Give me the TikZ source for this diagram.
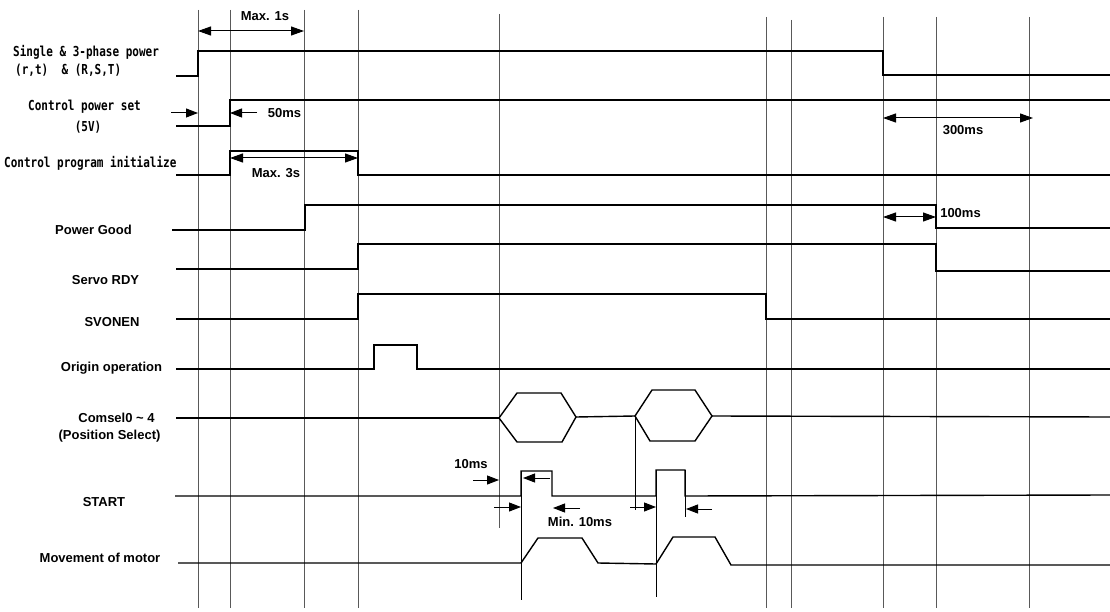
\documentclass[tikz,border=0pt]{standalone}
\usepackage{fontspec}
\setmainfont{Liberation Sans}
\newfontfamily\monofam{DejaVu Sans Mono}
\usetikzlibrary{arrows.meta}
\newcommand{\tallmono}[1]{\scalebox{1}[1.25]{#1}}
\begin{document}
\begin{tikzpicture}[x=1pt,y=-1pt,
  sig/.style={line width=1.4pt, line join=miter},
  guide/.style={line width=0.9pt, draw=black!65},
  thin/.style={line width=0.9pt, draw=black},
  dim/.style={line width=1pt, {Triangle[length=13pt,width=9pt]}-{Triangle[length=13pt,width=9pt]}},
  arr/.style={line width=1pt, -{Triangle[length=12pt,width=9pt]}},
  lab/.style={font=\fontsize{13}{13}\selectfont\bfseries, inner sep=0pt},
  mlab/.style={font=\fontsize{11}{11}\selectfont\monofam\bfseries, inner sep=0pt}]
\useasboundingbox (0,0) rectangle (1110,612);
% guide lines
\foreach \gx/\gt in {198/10,230/10,304/10,358/10,766/17,791/20,883/17,936/17,1029/17}
  \draw[guide] (\gx,\gt) -- (\gx,608);
\draw[guide] (499,14) -- (499,528);
\draw[thin] (521,471) -- (521,600);
\draw[thin] (656,470) -- (656,597);
\draw[thin] (635,416) -- (635,510);
\draw[thin] (685,470) -- (685,517);
% signal labels
\node[mlab, anchor=west] (l1a) at (13,52) {\tallmono{Single \& 3-phase power}};
\node[mlab, anchor=west] (l1b) at (15,70) {\tallmono{(r,t)\ \ \& (R,S,T)}};
\node[mlab] (l2a) at (84.5,107) {\tallmono{Control power set}};
\node[mlab] (l2b) at (88,127) {\tallmono{(5V)}};
\node[mlab, anchor=west] (l3) at (4,163) {\tallmono{Control program initialize}};
\node[lab] (l4) at (93.5,230) {Power Good};
\node[lab] (l5) at (105.5,280) {Servo RDY};
\node[lab] (l6) at (112,322) {SVONEN};
\node[lab] (l7) at (111.5,368) {Origin operation};
\node[lab] (l8a) at (116.5,418) {Comsel0 \textasciitilde{} 4};
\node[lab] (l8b) at (109.5,436) {(Position Select)};
\node[lab] (l9) at (104,502) {START};
\node[lab] (l10) at (100,558) {Movement of motor};
% signals
\draw[sig] (176,76) -- (198,76) -- (198,51) -- (883,51) -- (883,75) -- (1110,75);
\draw[sig] (176,126) -- (230,126) -- (230,100) -- (1110,100);
\draw[sig] (176,175) -- (230,175) -- (230,151) -- (358,151) -- (358,175) -- (1110,175);
\draw[sig] (172,230) -- (305,230) -- (305,205) -- (936,205) -- (936,228) -- (1110,228);
\draw[sig] (176,269) -- (358,269) -- (358,244) -- (936,244) -- (936,271) -- (1110,271);
\draw[sig] (176,319) -- (358,319) -- (358,294) -- (766,294) -- (766,319) -- (1110,319);
\draw[sig] (176,369) -- (374,369) -- (374,345) -- (417,345) -- (417,369) -- (1110,369);
% Comsel
\draw[sig] (176,418) -- (499,418);
\draw[sig] (499,418) -- (517,393) -- (561,393) -- (576,417) -- (562,442) -- (517,442) -- cycle;
\draw[sig] (576,417) -- (635,416);
\draw[sig] (635,416) -- (652,390) -- (695,390) -- (712,416) -- (695,441) -- (650,441) -- cycle;
\draw[sig] (712,416) -- (1110,417);
% START
\draw[sig] (175,496) -- (521,496) -- (521,471) -- (552,471) -- (552,496) -- (656,496) -- (656,470) -- (685,470) -- (685,496) -- (1110,495);
% Motor
\draw[sig] (178,563) -- (521,563) -- (538,538) -- (582,538) -- (598,563) -- (656,564) -- (673,537) -- (715,537) -- (731,565) -- (1110,565);
% dimension arrows and labels
\draw[dim] (198,31) -- (304,31);
\node[lab] (t1) at (265,16) {Max. 1s};
\draw[arr] (171,113) -- (198,113);
\draw[arr] (257,113) -- (230,113);
\node[lab] (t2) at (284.5,113) {50ms};
\draw[dim] (230,158) -- (358,158);
\node[lab] (t3) at (276,173) {Max. 3s};
\draw[dim] (883,118) -- (1033,118);
\node[lab] (t4) at (963,130) {300ms};
\draw[dim] (883,217) -- (936,217);
\node[lab] (t5) at (960.5,213) {100ms};
\node[lab] (t6) at (471,464) {10ms};
\draw[arr] (473,480) -- (499,480);
\draw[arr] (550,478) -- (523,478);
\draw[arr] (494,507) -- (521,507);
\draw[arr] (580,508) -- (553,508);
\node[lab] (t7) at (580,522) {Min. 10ms};
\draw[arr] (630,507) -- (656,507);
\draw[arr] (712,509) -- (686,509);
\end{tikzpicture}
\end{document}
